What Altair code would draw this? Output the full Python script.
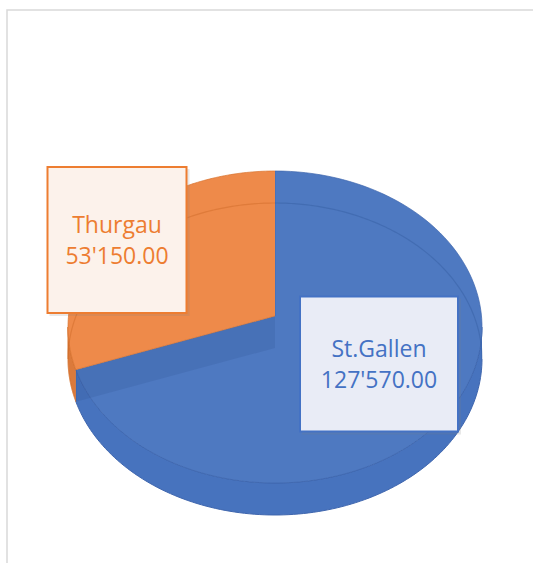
import altair as alt
import pandas as pd

# ---- data ----
categories = ["St.Gallen", "Thurgau"]
values = [127570.00, 53150.00]

# ---- layout (pixels) ----
W, H = 533, 563
CX, CY, RX, RY = 275, 327, 207, 156   # top-face ellipse
AX, AY = 275, 316                     # apex of slices (perspective centre)
T = 32                                # thickness of the pie
N = 120

label_cx = [379, 117]
label_cy = [364, 240]
box_w = [158, 139]
box_h = [135, 146]

# ---- styles ----
top_colors = ["#4E79C1", "#EE8A4A"]
side_colors = ["#4773BE", "#DB7A3B"]
edge_colors = ["#3F66AE", "#D8742F"]
text_colors = ["#4472C4", "#ED7D31"]
box_fills = ["#E9ECF6", "#FCF2EB"]
FONT = "Open Sans"

df = pd.DataFrame({"cat": categories, "val": values, "idx": list(range(len(categories)))})
lab = pd.DataFrame({"cat": categories, "val": values, "lx": label_cx, "ly": label_cy,
                    "bw": box_w, "bh": box_h})

xs = alt.Scale(domain=[0, W], nice=False, zero=False)
ys = alt.Scale(domain=[0, H], reverse=True, nice=False, zero=False)
cat_dom = categories


def XQ(f):
    return alt.X(f, type="quantitative", scale=xs, axis=None)


def YQ(f):
    return alt.Y(f, type="quantitative", scale=ys, axis=None)


base = alt.Chart(df).transform_joinaggregate(total="sum(val)").transform_window(
    cum="sum(val)", sort=[alt.SortField("idx")], frame=[None, 0]
).transform_calculate(
    a0="2*PI*(datum.cum-datum.val)/datum.total",
    a1="2*PI*datum.cum/datum.total",
)

# chart frame
frame = alt.Chart(pd.DataFrame({"k": [0]})).mark_rect(
    fill="white", stroke="#D9D9D9", strokeWidth=1.5
).encode(x=alt.value(7), x2=alt.value(560), y=alt.value(10), y2=alt.value(590))

# side walls (front half only)
side = base.transform_calculate(
    b0="max(datum.a0, PI/2)", b1="min(datum.a1, 3*PI/2)"
).transform_filter("datum.b1 > datum.b0").transform_calculate(
    s=f"sequence(0, {2 * N + 2})"
).transform_flatten(["s"]).transform_calculate(
    k=f"datum.s <= {N} ? datum.s : {2 * N + 1} - datum.s",
    off=f"datum.s <= {N} ? 0 : {T}",
).transform_calculate(
    ang=f"datum.b0+(datum.b1-datum.b0)*datum.k/{N}"
).transform_calculate(
    px=f"{CX}+{RX}*sin(datum.ang)",
    py=f"{CY}-{RY}*cos(datum.ang)+datum.off",
).mark_line(strokeWidth=1, interpolate="linear").encode(
    x=XQ("px"), y=YQ("py"), order=alt.Order("s:Q"), detail="cat:N",
    fill=alt.Fill("cat:N", scale=alt.Scale(domain=cat_dom, range=side_colors), legend=None),
    stroke=alt.Stroke("cat:N", scale=alt.Scale(domain=cat_dom, range=edge_colors), legend=None),
)

# top faces
top = base.transform_calculate(s=f"sequence(-1, {N + 1})").transform_flatten(["s"]).transform_calculate(
    ang=f"datum.a0+(datum.a1-datum.a0)*datum.s/{N}"
).transform_calculate(
    px=f"datum.s < 0 ? {AX} : {CX}+{RX}*sin(datum.ang)",
    py=f"datum.s < 0 ? {AY} : {CY}-{RY}*cos(datum.ang)",
).mark_line(strokeWidth=1, strokeOpacity=0.7, interpolate="linear").encode(
    x=XQ("px"), y=YQ("py"), order=alt.Order("s:Q"), detail="cat:N",
    fill=alt.Fill("cat:N", scale=alt.Scale(domain=cat_dom, range=top_colors), legend=None),
    stroke=alt.Stroke("cat:N", scale=alt.Scale(domain=cat_dom, range=edge_colors), legend=None),
)

# translucent back rim of the bottom (seen through), back half only
rim = base.transform_calculate(seg="[0, 1]").transform_flatten(["seg"]).transform_calculate(
    c0="datum.seg == 0 ? max(datum.a0, 0) : max(datum.a0, 3*PI/2)",
    c1="datum.seg == 0 ? min(datum.a1, PI/2) : min(datum.a1, 2*PI)",
).transform_filter("datum.c1 > datum.c0").transform_calculate(
    s=f"sequence(0, {N + 1})", key="datum.cat + '_' + datum.seg"
).transform_flatten(["s"]).transform_calculate(
    ang=f"datum.c0+(datum.c1-datum.c0)*datum.s/{N}"
).transform_calculate(
    px=f"{CX}+{RX}*sin(datum.ang)",
    py=f"{CY}-{RY}*cos(datum.ang)+{T}",
).mark_line(strokeWidth=1.2, strokeOpacity=0.35, interpolate="linear").encode(
    x=XQ("px"), y=YQ("py"), order=alt.Order("s:Q"), detail="key:N",
    stroke=alt.Stroke("cat:N", scale=alt.Scale(domain=cat_dom, range=["#2F5597", "#C45F1C"]),
                      legend=None),
)

# cut face at the slice boundary, seen through
cut = base.transform_filter("datum.idx == 0").transform_calculate(
    s="sequence(0, 4)"
).transform_flatten(["s"]).transform_calculate(
    rx_=f"{CX}+{RX}*sin(datum.a1)", ry_=f"{CY}-{RY}*cos(datum.a1)"
).transform_calculate(
    px=f"(datum.s == 0 || datum.s == 3) ? {AX} : datum.rx_",
    py=f"datum.s == 0 ? {AY} : datum.s == 1 ? datum.ry_ : datum.s == 2 ? datum.ry_ + {T} : {AY} + {T}",
).mark_line(fill="#2B4C8C", fillOpacity=0.18, strokeOpacity=0, interpolate="linear").encode(
    x=XQ("px"), y=YQ("py"), order=alt.Order("s:Q")
)

# label boxes
lbase = alt.Chart(lab).transform_calculate(
    x1="datum.lx - datum.bw/2", x2="datum.lx + datum.bw/2",
    y1="datum.ly - datum.bh/2", y2="datum.ly + datum.bh/2",
    vtxt="replace(format(datum.val, ',.2f'), ',', \"'\")",
    t1="datum.ly - 7", t2="datum.ly + 24",
)
shadow = lbase.transform_calculate(
    sx1="datum.x1 + 2", sx2="datum.x2 + 3", sy1="datum.y1 + 2", sy2="datum.y2 + 3"
).mark_rect(fill="#7F7F7F", opacity=0.18).encode(
    x=XQ("sx1"), x2="sx2:Q", y=YQ("sy1"), y2="sy2:Q"
)
boxes = lbase.mark_rect(strokeWidth=2, opacity=1).encode(
    x=XQ("x1"), x2="x2:Q", y=YQ("y1"), y2="y2:Q",
    fill=alt.Fill("cat:N", scale=alt.Scale(domain=cat_dom, range=box_fills), legend=None),
    stroke=alt.Stroke("cat:N", scale=alt.Scale(domain=cat_dom, range=text_colors), legend=None),
)
txt_color = alt.Color("cat:N", scale=alt.Scale(domain=cat_dom, range=text_colors), legend=None)
t_name = lbase.mark_text(font=FONT, fontSize=23, baseline="alphabetic", align="center").encode(
    x=XQ("lx"), y=YQ("t1"), text="cat:N", color=txt_color
)
t_val = lbase.mark_text(font=FONT, fontSize=23, baseline="alphabetic", align="center").encode(
    x=XQ("lx"), y=YQ("t2"), text="vtxt:N", color=txt_color
)

chart = alt.layer(
    frame, side, top, rim, cut, shadow, boxes, t_name, t_val
).resolve_scale(
    fill="independent", stroke="independent", color="independent"
).properties(
    width=W, height=H, autosize=alt.AutoSizeParams(type="none"), padding=0
).configure_view(stroke=None)

chart.save("out.html", embed_options={"renderer": "svg", "actions": False})
